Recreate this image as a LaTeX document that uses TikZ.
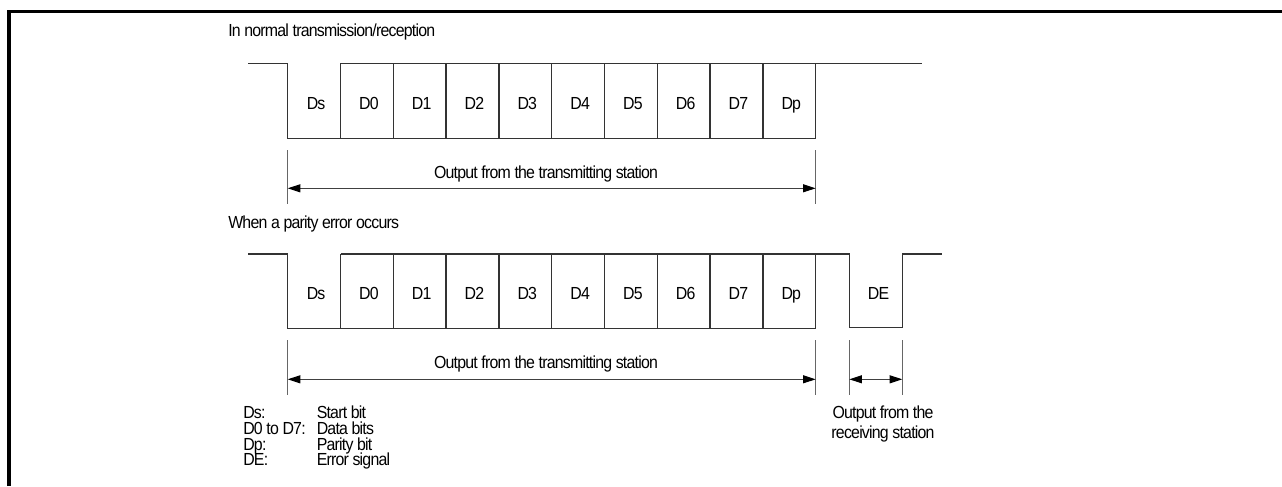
\documentclass[tikz,border=0pt]{standalone}
\usepackage{fontspec}
\setmainfont{Liberation Sans}[FakeStretch=0.91,LetterSpace=-4.5]
\usetikzlibrary{arrows.meta}
\begin{document}
\begin{tikzpicture}[x=0.75pt,y=-0.75pt,
  wave/.style={draw=black!80,line width=1.05pt,line join=miter},
  ext/.style={draw=black!60,line width=0.7pt},
  tip/.style={Triangle[length=9.5pt,width=6pt,color=black]},
  dim/.style={draw=black!75,line width=0.8pt,{Triangle[length=9.5pt,width=6pt,color=black]}-{Triangle[length=9.5pt,width=6pt,color=black]}},
  frame/.style={draw=black,line width=2.5pt},
  txt/.style={inner sep=0pt,anchor=base,font=\fontsize{13.1}{15.5}\selectfont},
  lt/.style={txt,anchor=base west}]
\useasboundingbox (0,0) rectangle (1282,486);
% frame
\draw[frame] (9,486) -- (9,11.7) -- (1282,11.7);
% titles
\node[lt] (title1) at (228,36) {In normal transmission/reception};
\node[lt] (title2) at (228,228) {When a parity error occurs};
% ---- top waveform
\def\hi{63.3}\def\lo{138.3}
\draw[wave] (248,\hi) -- (287.7,\hi) -- (287.7,\lo) -- (815.7,\lo) -- (815.7,\hi) -- (921.7,\hi);
\draw[wave] (340.5,\hi) -- (815.7,\hi);
\foreach \i in {1,...,9}{\draw[wave] ({287.7+52.8*\i},\hi) -- ({287.7+52.8*\i},\lo);}
\foreach \l [count=\i from 0] in {Ds,D0,D1,D2,D3,D4,D5,D6,D7,Dp}{
  \node[txt] (t\i) at ({287.7+52.8*\i+26.4+2},109.5) {\l};}
% top dimension
\coordinate (ta1) at (287.7,150); \coordinate (ta2) at (287.7,204);
\coordinate (tb1) at (815.7,150); \coordinate (tb2) at (815.7,204);
\draw[ext] (ta1) -- (ta2); \draw[ext] (tb1) -- (tb2);
\coordinate (tl) at (287.7,188.3); \coordinate (tr) at (815.7,188.3);
\draw[dim] (tl) -- (tr);
\node[txt] (tout) at (546,178) {Output from the transmitting station};
% ---- bottom waveform
\def\bhi{254}\def\blo{328.3}
\draw[wave] (248,\bhi) -- (287.7,\bhi) -- (287.7,\blo) -- (815.7,\blo) -- (815.7,\bhi);
\draw[wave] (340.5,\bhi) -- (849.3,\bhi) -- (849.3,327.5) -- (902.3,327.5) -- (902.3,\bhi) -- (942.3,\bhi);
\foreach \i in {1,...,9}{\draw[wave] ({287.7+52.8*\i},\bhi) -- ({287.7+52.8*\i},\blo);}
\foreach \l [count=\i from 0] in {Ds,D0,D1,D2,D3,D4,D5,D6,D7,Dp}{
  \node[txt] (b\i) at ({287.7+52.8*\i+26.4+2},299.5) {\l};}
\node[txt] (bde) at (878.5,299.5) {DE};
% bottom dimensions
\coordinate (ba1) at (287.7,340); \coordinate (ba2) at (287.7,395);
\coordinate (bb1) at (815.7,340); \coordinate (bb2) at (815.7,395);
\coordinate (bc1) at (849.3,340); \coordinate (bc2) at (849.3,395);
\coordinate (bd1) at (902.3,340); \coordinate (bd2) at (902.3,395);
\draw[ext] (ba1) -- (ba2); \draw[ext] (bb1) -- (bb2);
\draw[ext] (bc1) -- (bc2); \draw[ext] (bd1) -- (bd2);
\coordinate (bl) at (287.7,379.3); \coordinate (br) at (815.7,379.3);
\coordinate (el) at (849.3,379.3); \coordinate (er) at (902.3,379.3);
\draw[dim] (bl) -- (br);
\draw[dim] (el) -- (er);
\node[txt] (bout) at (546,368) {Output from the transmitting station};
\node[txt] (rout1) at (883,418) {Output from the};
\node[txt] (rout2) at (883,438.5) {receiving station};
% legend
\node[lt] (k1) at (243,418) {Ds:};
\node[lt] (k2) at (243,434) {D0 to D7:};
\node[lt] (k3) at (243,450) {Dp:};
\node[lt] (k4) at (243,465.5) {DE:};
\node[lt] (v1) at (316.5,418) {Start bit};
\node[lt] (v2) at (316.5,434) {Data bits};
\node[lt] (v3) at (316.5,450) {Parity bit};
\node[lt] (v4) at (316.5,465.5) {Error signal};
\end{tikzpicture}
\end{document}
